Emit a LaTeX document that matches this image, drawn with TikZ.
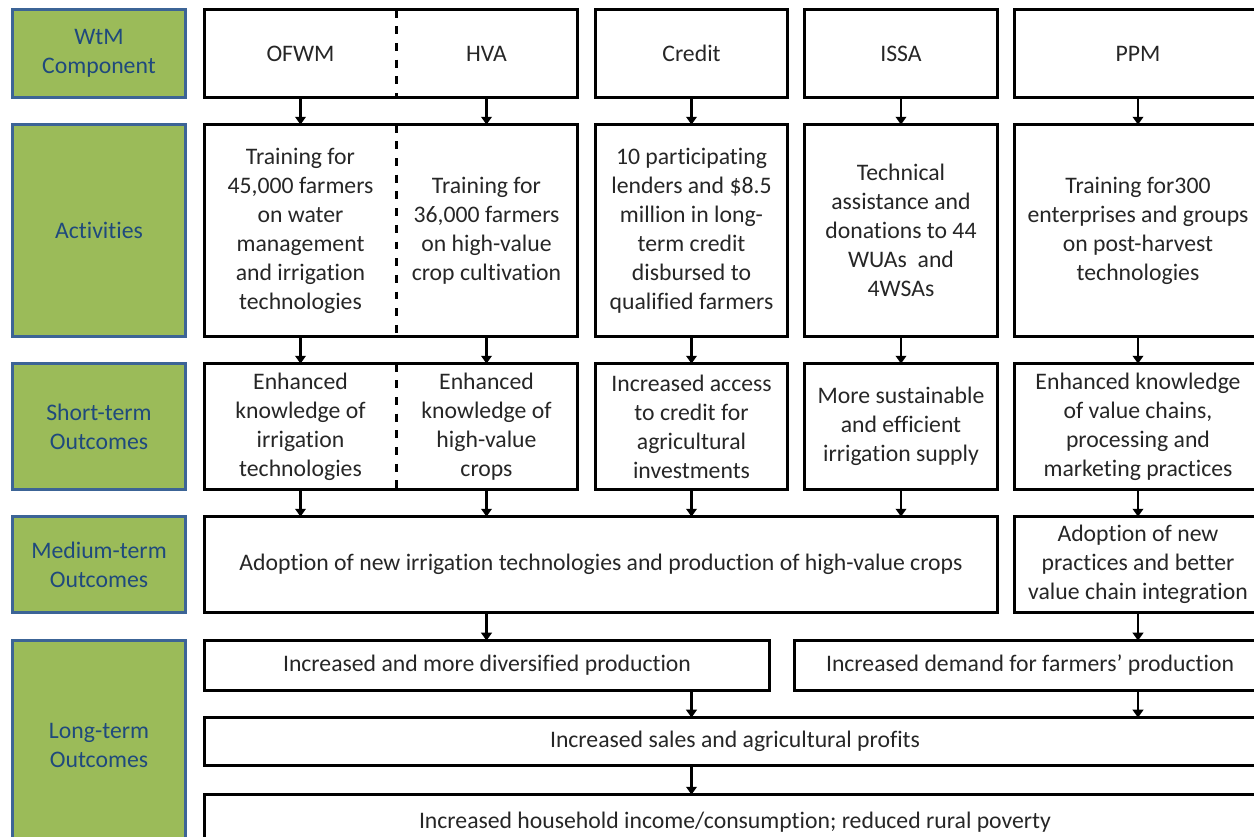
\documentclass[tikz,border=0pt]{standalone}
\usepackage{fontspec}
\setmainfont[Ligatures=CommonOff]{Carlito}
\usetikzlibrary{arrows.meta}
\definecolor{wtmgreen}{HTML}{9BBB59}
\definecolor{wtmedge}{HTML}{3C6496}
\definecolor{wtmtext}{HTML}{1F497D}

\begin{document}
\begin{tikzpicture}[x=0.02cm, y=-0.02cm,
  every node/.style={font=\fontsize{13.5}{16.5}\selectfont, align=center, inner sep=0pt, text=black!85},
  lbl/.style={fill=wtmgreen, text=wtmtext, minimum width=3.44cm},
  lbledge/.style={draw=wtmedge, line width=1.6pt},
  edge/.style={draw=black, line width=1.6pt},
  divider/.style={line width=1.4pt, dash pattern=on 4.5pt off 5pt},
  arr/.style={-{Triangle[length=4.5pt,width=6pt]}, line width=1.6pt}]
\useasboundingbox (0,0) rectangle (1254,837);
\clip (0,0) rectangle (1254,837);

% row labels
\foreach \n/\y/\h/\t in {wtm/53.5/87/{WtM\\Component}, act/230.5/211/Activities,
    sto/426.5/125/{Short-term\\Outcomes}, mto/564.5/95/{Medium-term\\Outcomes},
    lto/745.5/209/{Long-term\\Outcomes}}
  {\node[lbl, minimum height=\h*0.02cm] (\n) at (99,\y) {\t};
   \draw[lbledge] (\n.north west) rectangle (\n.south east);}

% components
\node[minimum width=3.82cm, minimum height=1.74cm] (ofwm) at (300.5,53.5) {OFWM};
\node[minimum width=3.62cm, minimum height=1.74cm] (hva) at (486.5,53.5) {HVA};
\node[minimum width=3.82cm, minimum height=1.74cm] (credit) at (691.5,53.5) {Credit};
\node[minimum width=3.84cm, minimum height=1.74cm] (issa) at (901,53.5) {ISSA};
\node[minimum width=4.92cm, minimum height=1.74cm] (ppm) at (1138,53.5) {PPM};

% activities
\node[minimum width=3.82cm, minimum height=4.22cm] (ofwmA) at (300.5,230.5)
  {Training for\\45,000 farmers\\on water\\management\\and irrigation\\technologies};
\node[minimum width=3.62cm, minimum height=4.22cm] (hvaA) at (486.5,230.5)
  {Training for\\36,000 farmers\\on high-value\\crop cultivation};
\node[minimum width=3.82cm, minimum height=4.22cm] (creditA) at (691.5,230.5)
  {10 participating\\lenders and \$8.5\\million in long-\\term credit\\disbursed to\\qualified farmers};
\node[minimum width=3.84cm, minimum height=4.22cm] (issaA) at (901,230.5)
  {Technical\\assistance and\\donations to 44\\WUAs~ and\\4WSAs};
\node[minimum width=4.92cm, minimum height=4.22cm] (ppmA) at (1138,230.5)
  {Training for300\\enterprises and groups\\on post-harvest\\technologies};

% short-term outcomes
\node[minimum width=3.82cm, minimum height=2.5cm] (ofwmS) at (300.5,426.5)
  {Enhanced\\knowledge of\\irrigation\\technologies};
\node[minimum width=3.62cm, minimum height=2.5cm] (hvaS) at (486.5,426.5)
  {Enhanced\\knowledge of\\high-value\\crops};
\node[minimum width=3.82cm, minimum height=2.5cm] (creditS) at (691.5,426.5)
  {Increased access\\to credit for\\agricultural\\investments};
\node[minimum width=3.84cm, minimum height=2.5cm] (issaS) at (901,426.5)
  {More sustainable\\and efficient\\irrigation supply};
\node[minimum width=4.92cm, minimum height=2.5cm] (ppmS) at (1138,426.5)
  {Enhanced knowledge\\of value chains,\\processing and\\marketing practices};

% medium-term outcomes
\node[minimum width=15.84cm, minimum height=1.9cm] (adopt) at (601,564.5)
  {Adoption of new irrigation technologies and production of high-value crops};
\node[minimum width=4.92cm, minimum height=1.9cm] (ppmM) at (1138,564.5)
  {Adoption of new\\practices and better\\value chain integration};

% long-term outcomes
\node[minimum width=11.28cm, minimum height=0.98cm] (diverse) at (487,665.5)
  {Increased and more diversified production};
\node[minimum width=9.4cm, minimum height=0.98cm] (demand) at (1030,665.5)
  {Increased demand for farmers’ production};
\node[minimum width=21.2cm, minimum height=0.94cm] (sales) at (735,741.5)
  {Increased sales and agricultural profits};
\node[minimum width=21.2cm, minimum height=1.1cm] (income) at (735,822.5)
  {Increased household income/consumption; reduced rural poverty};

% box outlines
\foreach \a/\b in {ofwm/hva, ofwmA/hvaA, ofwmS/hvaS, credit/credit, issa/issa, ppm/ppm,
    creditA/creditA, issaA/issaA, ppmA/ppmA, creditS/creditS, issaS/issaS, ppmS/ppmS,
    adopt/adopt, ppmM/ppmM, diverse/diverse, demand/demand, sales/sales, income/income}
  \draw[edge] (\a.north west) rectangle (\b.south east);
\foreach \n in {ofwm, ofwmA, ofwmS}
  \draw[divider] (\n.north east) -- (\n.south east);

% connectors
\foreach \a/\b in {ofwm/ofwmA, hva/hvaA, credit/creditA, issa/issaA, ppm/ppmA,
    ofwmA/ofwmS, hvaA/hvaS, creditA/creditS, issaA/issaS, ppmA/ppmS, ppmS/ppmM}
  \draw[arr] (\a) -- (\b);
\foreach \a in {ofwmS, hvaS, creditS, issaS}
  \draw[arr] (\a) -- (\a |- adopt.north);
\draw[arr] (hvaS |- adopt.south) -- (hvaS |- diverse.north);
\draw[arr] (ppmM) -- (ppmM |- demand.north);
\draw[arr] (creditS |- diverse.south) -- (creditS |- sales.north);
\draw[arr] (ppmM |- demand.south) -- (ppmM |- sales.north);
\draw[arr] (creditS |- sales.south) -- (creditS |- income.north);
\end{tikzpicture}
\end{document}
